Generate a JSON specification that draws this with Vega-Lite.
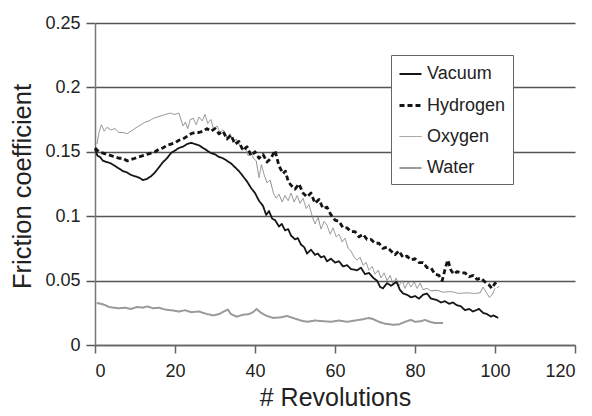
{
  "$schema": "https://vega.github.io/schema/vega-lite/v6.json",
  "autosize": {"type": "none"},
  "width": 480,
  "height": 322,
  "padding": {"left": 95, "top": 23, "right": 17, "bottom": 71},
  "background": "white",
  "config": {
    "font": "Liberation Sans",
    "view": {"stroke": null},
    "axis": {"labelColor": "#222", "titleColor": "#222", "labelFont": "Liberation Sans", "titleFont": "Liberation Sans", "titleFontWeight": "normal"}
  },
  "data": {"values": [
    {"s":"Water","x":0.4,"y":0.0326},{"s":"Water","x":1.5,"y":0.032},{"s":"Water","x":2.5,"y":0.031},{"s":"Water","x":3.5,"y":0.0295},{"s":"Water","x":4.6,"y":0.029},{"s":"Water","x":6,"y":0.0285},{"s":"Water","x":7.5,"y":0.029},{"s":"Water","x":9,"y":0.028},{"s":"Water","x":10.5,"y":0.0295},{"s":"Water","x":12,"y":0.029},{"s":"Water","x":13,"y":0.030},{"s":"Water","x":14.5,"y":0.0285},{"s":"Water","x":16,"y":0.029},{"s":"Water","x":17.5,"y":0.0275},{"s":"Water","x":19,"y":0.027},{"s":"Water","x":21,"y":0.026},{"s":"Water","x":22.5,"y":0.027},{"s":"Water","x":24,"y":0.0255},{"s":"Water","x":26,"y":0.026},{"s":"Water","x":28,"y":0.024},{"s":"Water","x":29.6,"y":0.023},{"s":"Water","x":31,"y":0.024},{"s":"Water","x":32.5,"y":0.0265},{"s":"Water","x":33.2,"y":0.0275},{"s":"Water","x":34,"y":0.024},{"s":"Water","x":35.4,"y":0.022},{"s":"Water","x":37,"y":0.0235},{"s":"Water","x":38.5,"y":0.024},{"s":"Water","x":39.5,"y":0.0255},{"s":"Water","x":40.4,"y":0.028},{"s":"Water","x":41.5,"y":0.025},{"s":"Water","x":43,"y":0.0225},{"s":"Water","x":44.6,"y":0.021},{"s":"Water","x":46.5,"y":0.0215},{"s":"Water","x":48,"y":0.0225},{"s":"Water","x":50,"y":0.0205},{"s":"Water","x":51.5,"y":0.019},{"s":"Water","x":53,"y":0.018},{"s":"Water","x":55,"y":0.019},{"s":"Water","x":57,"y":0.0185},{"s":"Water","x":59,"y":0.018},{"s":"Water","x":61,"y":0.019},{"s":"Water","x":63,"y":0.018},{"s":"Water","x":65,"y":0.019},{"s":"Water","x":67,"y":0.020},{"s":"Water","x":68.5,"y":0.021},{"s":"Water","x":69.6,"y":0.020},{"s":"Water","x":71,"y":0.018},{"s":"Water","x":72.5,"y":0.0165},{"s":"Water","x":74.6,"y":0.0157},{"s":"Water","x":76,"y":0.016},{"s":"Water","x":77.5,"y":0.018},{"s":"Water","x":79,"y":0.0195},{"s":"Water","x":80,"y":0.018},{"s":"Water","x":81.5,"y":0.0185},{"s":"Water","x":82.5,"y":0.0195},{"s":"Water","x":83.7,"y":0.018},{"s":"Water","x":85,"y":0.017},{"s":"Water","x":87,"y":0.017},

    {"s":"Oxygen","x":0.5,"y":0.156},{"s":"Oxygen","x":1,"y":0.165},{"s":"Oxygen","x":1.6,"y":0.171},{"s":"Oxygen","x":2.3,"y":0.166},{"s":"Oxygen","x":3,"y":0.169},{"s":"Oxygen","x":4,"y":0.167},{"s":"Oxygen","x":5,"y":0.168},{"s":"Oxygen","x":6,"y":0.165},{"s":"Oxygen","x":7,"y":0.165},{"s":"Oxygen","x":8,"y":0.164},{"s":"Oxygen","x":9,"y":0.166},{"s":"Oxygen","x":10.4,"y":0.169},{"s":"Oxygen","x":11.5,"y":0.171},{"s":"Oxygen","x":12.5,"y":0.173},{"s":"Oxygen","x":13.5,"y":0.174},{"s":"Oxygen","x":14.6,"y":0.176},{"s":"Oxygen","x":15.6,"y":0.177},{"s":"Oxygen","x":16.6,"y":0.178},{"s":"Oxygen","x":17.6,"y":0.179},{"s":"Oxygen","x":18.75,"y":0.180},{"s":"Oxygen","x":20,"y":0.179},{"s":"Oxygen","x":21,"y":0.180},{"s":"Oxygen","x":21.6,"y":0.174},{"s":"Oxygen","x":22,"y":0.170},{"s":"Oxygen","x":22.6,"y":0.173},{"s":"Oxygen","x":23.2,"y":0.168},{"s":"Oxygen","x":23.8,"y":0.175},{"s":"Oxygen","x":24.6,"y":0.176},{"s":"Oxygen","x":25.3,"y":0.171},{"s":"Oxygen","x":26,"y":0.177},{"s":"Oxygen","x":26.8,"y":0.174},{"s":"Oxygen","x":27.5,"y":0.179},{"s":"Oxygen","x":28.2,"y":0.172},{"s":"Oxygen","x":29,"y":0.175},{"s":"Oxygen","x":29.6,"y":0.168},{"s":"Oxygen","x":30.5,"y":0.170},{"s":"Oxygen","x":31.3,"y":0.165},{"s":"Oxygen","x":32,"y":0.167},{"s":"Oxygen","x":33,"y":0.161},{"s":"Oxygen","x":33.8,"y":0.164},{"s":"Oxygen","x":34.6,"y":0.157},{"s":"Oxygen","x":35.3,"y":0.160},{"s":"Oxygen","x":36,"y":0.156},{"s":"Oxygen","x":36.8,"y":0.151},{"s":"Oxygen","x":37.5,"y":0.154},{"s":"Oxygen","x":38.3,"y":0.147},{"s":"Oxygen","x":39,"y":0.150},{"s":"Oxygen","x":39.6,"y":0.145},{"s":"Oxygen","x":40.3,"y":0.143},{"s":"Oxygen","x":41,"y":0.130},{"s":"Oxygen","x":41.6,"y":0.140},{"s":"Oxygen","x":42.3,"y":0.132},{"s":"Oxygen","x":43,"y":0.126},{"s":"Oxygen","x":43.8,"y":0.128},{"s":"Oxygen","x":44.6,"y":0.118},{"s":"Oxygen","x":45.3,"y":0.114},{"s":"Oxygen","x":46,"y":0.117},{"s":"Oxygen","x":46.8,"y":0.111},{"s":"Oxygen","x":47.5,"y":0.116},{"s":"Oxygen","x":48.3,"y":0.112},{"s":"Oxygen","x":49,"y":0.118},{"s":"Oxygen","x":49.8,"y":0.111},{"s":"Oxygen","x":50.5,"y":0.116},{"s":"Oxygen","x":51.3,"y":0.110},{"s":"Oxygen","x":52,"y":0.114},{"s":"Oxygen","x":52.8,"y":0.106},{"s":"Oxygen","x":53.5,"y":0.109},{"s":"Oxygen","x":54.3,"y":0.100},{"s":"Oxygen","x":55,"y":0.094},{"s":"Oxygen","x":55.8,"y":0.099},{"s":"Oxygen","x":56.5,"y":0.090},{"s":"Oxygen","x":57.3,"y":0.096},{"s":"Oxygen","x":58,"y":0.093},{"s":"Oxygen","x":58.8,"y":0.086},{"s":"Oxygen","x":59.5,"y":0.091},{"s":"Oxygen","x":60.3,"y":0.084},{"s":"Oxygen","x":61,"y":0.086},{"s":"Oxygen","x":61.8,"y":0.080},{"s":"Oxygen","x":62.5,"y":0.083},{"s":"Oxygen","x":63.3,"y":0.075},{"s":"Oxygen","x":64,"y":0.073},{"s":"Oxygen","x":64.8,"y":0.068},{"s":"Oxygen","x":65.5,"y":0.066},{"s":"Oxygen","x":66.3,"y":0.068},{"s":"Oxygen","x":67,"y":0.062},{"s":"Oxygen","x":67.8,"y":0.064},{"s":"Oxygen","x":68.5,"y":0.058},{"s":"Oxygen","x":69.3,"y":0.061},{"s":"Oxygen","x":70,"y":0.055},{"s":"Oxygen","x":70.8,"y":0.058},{"s":"Oxygen","x":71.5,"y":0.052},{"s":"Oxygen","x":72.3,"y":0.056},{"s":"Oxygen","x":73,"y":0.050},{"s":"Oxygen","x":73.8,"y":0.054},{"s":"Oxygen","x":74.5,"y":0.047},{"s":"Oxygen","x":75.3,"y":0.052},{"s":"Oxygen","x":76,"y":0.046},{"s":"Oxygen","x":76.8,"y":0.050},{"s":"Oxygen","x":77.5,"y":0.044},{"s":"Oxygen","x":78.3,"y":0.049},{"s":"Oxygen","x":79,"y":0.045},{"s":"Oxygen","x":79.8,"y":0.049},{"s":"Oxygen","x":80.5,"y":0.044},{"s":"Oxygen","x":81.3,"y":0.048},{"s":"Oxygen","x":82,"y":0.043},{"s":"Oxygen","x":83,"y":0.044},{"s":"Oxygen","x":84,"y":0.042},{"s":"Oxygen","x":85.5,"y":0.0425},{"s":"Oxygen","x":87,"y":0.041},{"s":"Oxygen","x":89,"y":0.0415},{"s":"Oxygen","x":91,"y":0.040},{"s":"Oxygen","x":93,"y":0.0405},{"s":"Oxygen","x":95,"y":0.040},{"s":"Oxygen","x":96.3,"y":0.0405},{"s":"Oxygen","x":97,"y":0.045},{"s":"Oxygen","x":97.8,"y":0.041},{"s":"Oxygen","x":98.6,"y":0.037},{"s":"Oxygen","x":99.3,"y":0.039},{"s":"Oxygen","x":100,"y":0.044},

    {"s":"Vacuum","x":0,"y":0.152},{"s":"Vacuum","x":0.6,"y":0.147},{"s":"Vacuum","x":1.25,"y":0.146},{"s":"Vacuum","x":2,"y":0.143},{"s":"Vacuum","x":3,"y":0.142},{"s":"Vacuum","x":4,"y":0.141},{"s":"Vacuum","x":5,"y":0.139},{"s":"Vacuum","x":6,"y":0.137},{"s":"Vacuum","x":7,"y":0.135},{"s":"Vacuum","x":8,"y":0.134},{"s":"Vacuum","x":9,"y":0.132},{"s":"Vacuum","x":10,"y":0.131},{"s":"Vacuum","x":11,"y":0.130},{"s":"Vacuum","x":12,"y":0.128},{"s":"Vacuum","x":13,"y":0.129},{"s":"Vacuum","x":14,"y":0.131},{"s":"Vacuum","x":15,"y":0.134},{"s":"Vacuum","x":16,"y":0.138},{"s":"Vacuum","x":17,"y":0.142},{"s":"Vacuum","x":18,"y":0.145},{"s":"Vacuum","x":19,"y":0.149},{"s":"Vacuum","x":20,"y":0.151},{"s":"Vacuum","x":21,"y":0.153},{"s":"Vacuum","x":22,"y":0.154},{"s":"Vacuum","x":23,"y":0.156},{"s":"Vacuum","x":24,"y":0.157},{"s":"Vacuum","x":25,"y":0.156},{"s":"Vacuum","x":26,"y":0.155},{"s":"Vacuum","x":27,"y":0.153},{"s":"Vacuum","x":28,"y":0.151},{"s":"Vacuum","x":29,"y":0.149},{"s":"Vacuum","x":30,"y":0.148},{"s":"Vacuum","x":31,"y":0.146},{"s":"Vacuum","x":32,"y":0.145},{"s":"Vacuum","x":33,"y":0.143},{"s":"Vacuum","x":34,"y":0.141},{"s":"Vacuum","x":35,"y":0.138},{"s":"Vacuum","x":36,"y":0.135},{"s":"Vacuum","x":37,"y":0.131},{"s":"Vacuum","x":38,"y":0.127},{"s":"Vacuum","x":39,"y":0.122},{"s":"Vacuum","x":40,"y":0.118},{"s":"Vacuum","x":41,"y":0.112},{"s":"Vacuum","x":42,"y":0.108},{"s":"Vacuum","x":42.8,"y":0.101},{"s":"Vacuum","x":43.5,"y":0.104},{"s":"Vacuum","x":44.3,"y":0.098},{"s":"Vacuum","x":45,"y":0.097},{"s":"Vacuum","x":46,"y":0.092},{"s":"Vacuum","x":46.7,"y":0.094},{"s":"Vacuum","x":47.5,"y":0.089},{"s":"Vacuum","x":48.3,"y":0.090},{"s":"Vacuum","x":49,"y":0.085},{"s":"Vacuum","x":50,"y":0.082},{"s":"Vacuum","x":50.7,"y":0.083},{"s":"Vacuum","x":51.5,"y":0.078},{"s":"Vacuum","x":52.3,"y":0.076},{"s":"Vacuum","x":53,"y":0.071},{"s":"Vacuum","x":54,"y":0.074},{"s":"Vacuum","x":55,"y":0.070},{"s":"Vacuum","x":55.7,"y":0.071},{"s":"Vacuum","x":56.5,"y":0.068},{"s":"Vacuum","x":57.3,"y":0.069},{"s":"Vacuum","x":58,"y":0.065},{"s":"Vacuum","x":59,"y":0.067},{"s":"Vacuum","x":60,"y":0.064},{"s":"Vacuum","x":61,"y":0.065},{"s":"Vacuum","x":62,"y":0.061},{"s":"Vacuum","x":63,"y":0.062},{"s":"Vacuum","x":64,"y":0.059},{"s":"Vacuum","x":65.5,"y":0.058},{"s":"Vacuum","x":66.5,"y":0.060},{"s":"Vacuum","x":67.5,"y":0.055},{"s":"Vacuum","x":68.5,"y":0.056},{"s":"Vacuum","x":69.6,"y":0.052},{"s":"Vacuum","x":70.5,"y":0.050},{"s":"Vacuum","x":71.3,"y":0.045},{"s":"Vacuum","x":72,"y":0.044},{"s":"Vacuum","x":73,"y":0.048},{"s":"Vacuum","x":74,"y":0.046},{"s":"Vacuum","x":75.4,"y":0.049},{"s":"Vacuum","x":76.2,"y":0.043},{"s":"Vacuum","x":77,"y":0.040},{"s":"Vacuum","x":78,"y":0.039},{"s":"Vacuum","x":79,"y":0.037},{"s":"Vacuum","x":80,"y":0.038},{"s":"Vacuum","x":81,"y":0.036},{"s":"Vacuum","x":82,"y":0.039},{"s":"Vacuum","x":83,"y":0.040},{"s":"Vacuum","x":84,"y":0.036},{"s":"Vacuum","x":85.4,"y":0.035},{"s":"Vacuum","x":86.5,"y":0.033},{"s":"Vacuum","x":87.5,"y":0.034},{"s":"Vacuum","x":88.5,"y":0.032},{"s":"Vacuum","x":89.5,"y":0.033},{"s":"Vacuum","x":90.4,"y":0.031},{"s":"Vacuum","x":91.5,"y":0.030},{"s":"Vacuum","x":92.5,"y":0.027},{"s":"Vacuum","x":93.5,"y":0.028},{"s":"Vacuum","x":94.5,"y":0.026},{"s":"Vacuum","x":96,"y":0.028},{"s":"Vacuum","x":97,"y":0.025},{"s":"Vacuum","x":98,"y":0.024},{"s":"Vacuum","x":99,"y":0.022},{"s":"Vacuum","x":99.6,"y":0.023},{"s":"Vacuum","x":100.8,"y":0.021},

    {"s":"Hydrogen","x":0,"y":0.153},{"s":"Hydrogen","x":1,"y":0.150},{"s":"Hydrogen","x":2,"y":0.149},{"s":"Hydrogen","x":3,"y":0.148},{"s":"Hydrogen","x":4,"y":0.147},{"s":"Hydrogen","x":5,"y":0.146},{"s":"Hydrogen","x":6,"y":0.145},{"s":"Hydrogen","x":7,"y":0.145},{"s":"Hydrogen","x":8,"y":0.143},{"s":"Hydrogen","x":9,"y":0.144},{"s":"Hydrogen","x":10,"y":0.145},{"s":"Hydrogen","x":11,"y":0.146},{"s":"Hydrogen","x":12,"y":0.147},{"s":"Hydrogen","x":13,"y":0.148},{"s":"Hydrogen","x":14,"y":0.149},{"s":"Hydrogen","x":15,"y":0.150},{"s":"Hydrogen","x":16,"y":0.152},{"s":"Hydrogen","x":17,"y":0.153},{"s":"Hydrogen","x":18,"y":0.155},{"s":"Hydrogen","x":19,"y":0.156},{"s":"Hydrogen","x":20,"y":0.157},{"s":"Hydrogen","x":21,"y":0.159},{"s":"Hydrogen","x":22,"y":0.160},{"s":"Hydrogen","x":23,"y":0.162},{"s":"Hydrogen","x":24,"y":0.164},{"s":"Hydrogen","x":25,"y":0.165},{"s":"Hydrogen","x":26,"y":0.165},{"s":"Hydrogen","x":27,"y":0.166},{"s":"Hydrogen","x":28,"y":0.168},{"s":"Hydrogen","x":29,"y":0.166},{"s":"Hydrogen","x":30,"y":0.168},{"s":"Hydrogen","x":31,"y":0.164},{"s":"Hydrogen","x":32,"y":0.166},{"s":"Hydrogen","x":33,"y":0.160},{"s":"Hydrogen","x":34,"y":0.163},{"s":"Hydrogen","x":35,"y":0.156},{"s":"Hydrogen","x":36,"y":0.158},{"s":"Hydrogen","x":37,"y":0.151},{"s":"Hydrogen","x":38,"y":0.154},{"s":"Hydrogen","x":39,"y":0.147},{"s":"Hydrogen","x":40,"y":0.150},{"s":"Hydrogen","x":41,"y":0.145},{"s":"Hydrogen","x":42,"y":0.148},{"s":"Hydrogen","x":43,"y":0.142},{"s":"Hydrogen","x":44,"y":0.145},{"s":"Hydrogen","x":45,"y":0.151},{"s":"Hydrogen","x":46,"y":0.139},{"s":"Hydrogen","x":47,"y":0.133},{"s":"Hydrogen","x":47.6,"y":0.135},{"s":"Hydrogen","x":48.3,"y":0.127},{"s":"Hydrogen","x":49,"y":0.124},{"s":"Hydrogen","x":50,"y":0.121},{"s":"Hydrogen","x":51,"y":0.125},{"s":"Hydrogen","x":52,"y":0.118},{"s":"Hydrogen","x":53,"y":0.115},{"s":"Hydrogen","x":54,"y":0.118},{"s":"Hydrogen","x":55,"y":0.110},{"s":"Hydrogen","x":56,"y":0.113},{"s":"Hydrogen","x":57,"y":0.106},{"s":"Hydrogen","x":58,"y":0.107},{"s":"Hydrogen","x":59,"y":0.101},{"s":"Hydrogen","x":60,"y":0.097},{"s":"Hydrogen","x":61,"y":0.096},{"s":"Hydrogen","x":62,"y":0.091},{"s":"Hydrogen","x":63,"y":0.091},{"s":"Hydrogen","x":64,"y":0.088},{"s":"Hydrogen","x":65,"y":0.088},{"s":"Hydrogen","x":66,"y":0.084},{"s":"Hydrogen","x":67,"y":0.086},{"s":"Hydrogen","x":68,"y":0.082},{"s":"Hydrogen","x":69,"y":0.082},{"s":"Hydrogen","x":70,"y":0.079},{"s":"Hydrogen","x":71,"y":0.079},{"s":"Hydrogen","x":72,"y":0.075},{"s":"Hydrogen","x":73,"y":0.076},{"s":"Hydrogen","x":74,"y":0.073},{"s":"Hydrogen","x":75,"y":0.070},{"s":"Hydrogen","x":76,"y":0.073},{"s":"Hydrogen","x":77,"y":0.068},{"s":"Hydrogen","x":78,"y":0.069},{"s":"Hydrogen","x":79,"y":0.066},{"s":"Hydrogen","x":80,"y":0.067},{"s":"Hydrogen","x":81,"y":0.064},{"s":"Hydrogen","x":82,"y":0.064},{"s":"Hydrogen","x":83,"y":0.060},{"s":"Hydrogen","x":84,"y":0.060},{"s":"Hydrogen","x":85,"y":0.055},{"s":"Hydrogen","x":86,"y":0.054},{"s":"Hydrogen","x":86.8,"y":0.050},{"s":"Hydrogen","x":87.6,"y":0.060},{"s":"Hydrogen","x":88.2,"y":0.066},{"s":"Hydrogen","x":89,"y":0.058},{"s":"Hydrogen","x":89.7,"y":0.055},{"s":"Hydrogen","x":90.5,"y":0.057},{"s":"Hydrogen","x":91.5,"y":0.056},{"s":"Hydrogen","x":92.5,"y":0.056},{"s":"Hydrogen","x":93.5,"y":0.053},{"s":"Hydrogen","x":94.6,"y":0.054},{"s":"Hydrogen","x":95.5,"y":0.051},{"s":"Hydrogen","x":96.5,"y":0.052},{"s":"Hydrogen","x":97.5,"y":0.049},{"s":"Hydrogen","x":98.4,"y":0.047},{"s":"Hydrogen","x":99.2,"y":0.044},{"s":"Hydrogen","x":100,"y":0.048},{"s":"Hydrogen","x":100.8,"y":0.045}
  ]},
  "mark": {"type": "line", "strokeJoin": "round", "strokeCap": "butt"},
  "encoding": {
    "x": {
      "field": "x", "type": "quantitative",
      "scale": {"domain": [0, 120], "nice": false},
      "axis": {
        "values": [0, 20, 40, 60, 80, 100, 120],
        "grid": false,
        "domainColor": "#666", "domainWidth": 1.5,
        "tickColor": "#666", "tickWidth": 1.5, "tickSize": 8,
        "labelFontSize": 18, "labelPadding": 9,
        "title": "# Revolutions", "titleFontSize": 25,
        "titleY": 60, "titleBaseline": "alphabetic"
      }
    },
    "y": {
      "field": "y", "type": "quantitative",
      "scale": {"domain": [0, 0.25], "nice": false},
      "axis": {
        "values": [0, 0.05, 0.1, 0.15, 0.2, 0.25],
        "format": ".2~f",
        "grid": true, "gridColor": "#555", "gridWidth": 1.5,
        "domainColor": "#777", "domainWidth": 1.5,
        "tickColor": "#555", "tickWidth": 1.5, "tickSize": 9,
        "labelFontSize": 18, "labelPadding": 6,
        "title": "Friction coefficient", "titleFontSize": 25.5,
        "titleX": -60, "titleY": 163, "titleAngle": 270, "titleBaseline": "bottom", "titleAlign": "center"
      }
    },
    "color": {
      "field": "s", "type": "nominal",
      "scale": {"domain": ["Vacuum", "Hydrogen", "Oxygen", "Water"], "range": ["#151515", "#151515", "#8a8a8a", "#9a9a9a"]},
      "legend": {
        "title": null, "orient": "none", "legendX": 296, "legendY": 32,
        "padding": 7, "fillColor": "white", "strokeColor": "#666",
        "rowPadding": 10, "symbolType": "stroke", "symbolSize": 484,
        "labelFontSize": 18, "labelOffset": 4, "labelColor": "#222", "labelFont": "Liberation Sans", "labelLimit": 200
      }
    },
    "strokeDash": {
      "field": "s", "type": "nominal",
      "scale": {"domain": ["Vacuum", "Hydrogen", "Oxygen", "Water"], "range": [[1, 0], [5, 3], [1, 0], [1, 0]]}
    },
    "strokeWidth": {
      "field": "s", "type": "nominal",
      "scale": {"type": "ordinal", "domain": ["Vacuum", "Hydrogen", "Oxygen", "Water"], "range": [1.8, 2.8, 1, 2]}
    }
  }
}
